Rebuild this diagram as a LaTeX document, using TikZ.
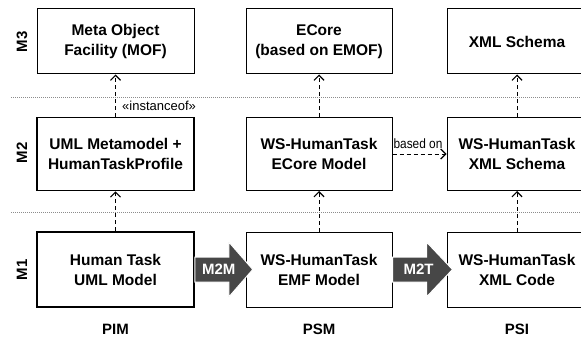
\documentclass[tikz,border=0pt]{standalone}
\usepackage{fontspec}
\setmainfont{Liberation Sans}
\usetikzlibrary{arrows.meta,calc}
\begin{document}
\begin{tikzpicture}[x=1pt,y=-1pt,
  box/.style={draw=black, fill=white, line width=1pt, align=center, inner sep=0pt,
    font=\bfseries\fontsize{15.5}{20}\selectfont},
  thickbox/.style={box, line width=1.6pt},
  dasharrow/.style={draw=black, line width=1pt, dash pattern=on 4pt off 3pt,
    -{Straight Barb[length=5pt,width=10pt,line width=1.2pt]}},
  sepline/.style={draw=black!45, line width=0.7pt, dash pattern=on 1pt off 1pt},
  rowlabel/.style={rotate=90, font=\bfseries\fontsize{15}{17}\selectfont},
  collabel/.style={anchor=base, font=\bfseries\fontsize{15}{17}\selectfont},
  blockarrow/.style={fill=black!72, draw=white, line width=1pt},
  blocktext/.style={text=white, font=\bfseries\fontsize{15}{16}\selectfont},
  edgelabel/.style={font=\fontsize{13}{15}\selectfont, inner sep=0pt},
]
\useasboundingbox (0,0) rectangle (581,337);
\clip (0,0) rectangle (581,337);

% separators
\coordinate (s1l) at (11,97);  \coordinate (s1r) at (581,97);
\coordinate (s2l) at (11,212); \coordinate (s2r) at (581,212);
\draw[sepline] (s1l) -- (s1r);
\draw[sepline] (s2l) -- (s2r);

% row labels
\node[rowlabel] (lm3) at (22,42) {M3};
\node[rowlabel] (lm2) at (22,153) {M2};
\node[rowlabel] (lm1) at (22,270) {M1};

% M3 row
\node[box, minimum width=157pt, minimum height=65pt] (m3a) at (115.5,41.5) {Meta Object\\Facility (MOF)};
\node[box, minimum width=146pt, minimum height=65pt] (m3b) at (319,41.5) {ECore\\(based on EMOF)};
\node[box, minimum width=140pt, minimum height=65pt] (m3c) at (517,41.5) {XML Schema};

% M2 row
\node[thickbox, minimum width=157pt, minimum height=73pt] (m2a) at (115.5,154) {UML Metamodel +\\HumanTaskProfile};
\node[box, minimum width=146pt, minimum height=73pt] (m2b) at (319,154) {WS-HumanTask\\ECore Model};
\node[box, minimum width=140pt, minimum height=73pt] (m2c) at (517,154) {WS-HumanTask\\XML Schema};

% M1 row
\node[thickbox, minimum width=157pt, minimum height=75pt] (m1a) at (115.5,269.5) {Human Task\\UML Model};
\node[box, minimum width=146pt, minimum height=75pt] (m1b) at (319,269.5) {WS-HumanTask\\EMF Model};
\node[box, minimum width=140pt, minimum height=75pt] (m1c) at (517,269.5) {WS-HumanTask\\XML Code};

% column labels
\node[collabel] (pim) at (115.5,334) {PIM};
\node[collabel] (psm) at (319,334) {PSM};
\node[collabel] (psi) at (517,334) {PSI};

% dashed relations
\draw[dasharrow] (m2a.north) -- (m3a.south);
\draw[dasharrow] (m2b.north) -- (m3b.south);
\draw[dasharrow] (m2c.north) -- (m3c.south);
\draw[dasharrow] (m1a.north) -- (m2a.south);
\draw[dasharrow] (m1b.north) -- (m2b.south);
\draw[dasharrow] (m1c.north) -- (m2c.south);
\draw[dasharrow] (m2b.east) -- (m2c.west);

\node[edgelabel, anchor=west] (inst) at (122,106) {«instanceof»};
\node[edgelabel, anchor=base, font=\fontsize{13.5}{15}\selectfont] (based) at (418,148.5) {\scalebox{0.88}[1]{based on}};

% block arrows
\path[blockarrow] ($(m1a.east)+(0,-12.5)$) -- ++(34,0) -- ++(0,-15) -- ++(24,27.5)
  -- ++(-24,27.5) -- ++(0,-15) -- ++(-34,0) -- cycle;
\node[blocktext] (m2m) at ($(m1a.east)+(24,0)$) {M2M};
\path[blockarrow] ($(m1b.east)+(0,-12.5)$) -- ++(34,0) -- ++(0,-15) -- ++(26,27.5)
  -- ++(-26,27.5) -- ++(0,-15) -- ++(-34,0) -- cycle;
\node[blocktext] (m2t) at ($(m1b.east)+(26,0)$) {M2T};
\end{tikzpicture}
\end{document}
